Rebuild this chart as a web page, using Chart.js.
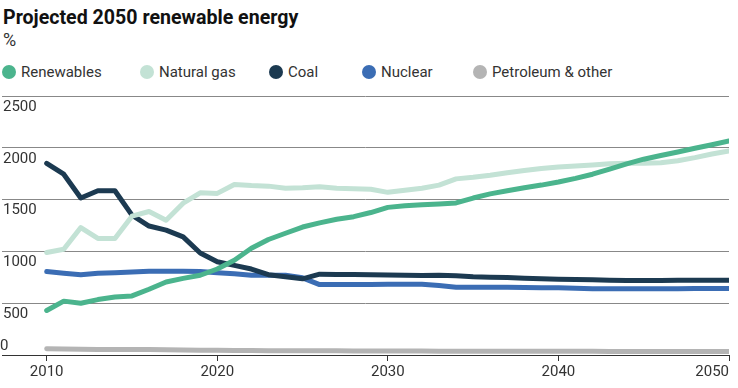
<!DOCTYPE html>
<html>
<head>
<meta charset="utf-8">
<script src="https://cdn.jsdelivr.net/npm/chart.js@4"></script>
<style>
  body { margin: 0; width: 738px; height: 388px; position: relative; overflow: hidden; background: #fff; font-family: Roboto, sans-serif; }
  #title { position: absolute; left: 3px; top: 6px; font-size: 19.6px; font-weight: 700; line-height: 24px; color: #111; }
  #unit { position: absolute; left: 3px; top: 30px; font-size: 18px; line-height: 20px; color: #333; }
  #legend { position: absolute; left: 0; top: 63px; width: 738px; height: 18px; }
  .item { position: absolute; top: 0; display: flex; align-items: center; height: 18px; font-size: 15px; color: #333; white-space: nowrap; }
  .dot { width: 14px; height: 14px; border-radius: 50%; margin-right: 5px; }
  #wrap { position: absolute; left: 0; top: 86px; width: 738px; height: 302px; }
</style>
</head>
<body>
<div id="title">Projected 2050 renewable energy</div>
<div id="unit">%</div>
<div id="legend"></div>
<div id="wrap"><canvas id="chart"></canvas></div>
<script>
const years = [2010, 2011, 2012, 2013, 2014, 2015, 2016, 2017, 2018, 2019, 2020,
  2021, 2022, 2023, 2024, 2025, 2026, 2027, 2028, 2029, 2030,
  2031, 2032, 2033, 2034, 2035, 2036, 2037, 2038, 2039, 2040,
  2041, 2042, 2043, 2044, 2045, 2046, 2047, 2048, 2049, 2050];

const renewables = [430, 520, 500, 535, 560, 570, 635, 705, 740, 770, 830,
  915, 1030, 1115, 1175, 1235, 1275, 1310, 1335, 1375, 1425,
  1440, 1450, 1458, 1468, 1515, 1555, 1585, 1615, 1640, 1670,
  1705, 1745, 1795, 1845, 1890, 1925, 1960, 1995, 2030, 2065];
const naturalGas = [990, 1020, 1230, 1125, 1125, 1340, 1385, 1300, 1465, 1565, 1560,
  1645, 1635, 1630, 1610, 1615, 1625, 1610, 1605, 1600, 1570,
  1590, 1610, 1640, 1700, 1715, 1735, 1760, 1780, 1800, 1815,
  1825, 1835, 1845, 1850, 1850, 1855, 1875, 1905, 1940, 1970];
const coal = [1850, 1745, 1515, 1585, 1585, 1350, 1245, 1205, 1140, 985, 900,
  865, 830, 775, 755, 735, 780, 778, 776, 775, 772,
  770, 768, 770, 765, 755, 750, 748, 740, 735, 730,
  728, 726, 722, 720, 720, 718, 722, 722, 722, 722];
const nuclear = [805, 790, 775, 790, 795, 800, 808, 808, 808, 805, 795,
  785, 770, 770, 770, 745, 680, 680, 680, 680, 683,
  683, 683, 670, 655, 655, 655, 655, 652, 650, 648,
  645, 640, 640, 640, 640, 640, 640, 642, 642, 642];
const petroleum = [60, 57, 55, 54, 54, 54, 52, 50, 48, 46, 45,
  44, 43, 42, 42, 41, 40, 40, 39, 39, 38,
  38, 38, 37, 37, 37, 36, 36, 36, 35, 35,
  35, 35, 34, 34, 34, 34, 33, 33, 33, 33];

const seriesNames = ["Renewables", "Natural gas", "Coal", "Nuclear", "Petroleum & other"];
const seriesColors = ["#4bb48d", "#c3e2d5", "#1c3a51", "#3b6db4", "#b4b4b4"];
const seriesValues = [renewables, naturalGas, coal, nuclear, petroleum];

const yTicks = [0, 500, 1000, 1500, 2000, 2500];
const xTicks = [2010, 2020, 2030, 2040];
const xLastTick = [2050];

const legendLeft = [2, 140, 269, 362, 473];

const font = { family: "Roboto", size: 15 };
const textColor = "#333";

const datasets = seriesNames.map((name, i) => ({
  label: name,
  data: seriesValues[i].map((v, j) => ({ x: years[j], y: v })),
  borderColor: seriesColors[i],
  backgroundColor: seriesColors[i],
  borderWidth: 5,
  borderCapStyle: "round",
  borderJoinStyle: "round",
  pointRadius: 0,
  tension: 0,
}));

// html legend
const legend = document.getElementById("legend");
seriesNames.forEach((name, i) => {
  const item = document.createElement("div");
  item.className = "item";
  item.style.left = legendLeft[i] + "px";
  item.innerHTML = '<span class="dot" style="background:' + seriesColors[i] + '"></span>';
  item.appendChild(document.createTextNode(name));
  legend.appendChild(item);
});

const xMin = 2007.38;

new Chart(document.getElementById("chart"), {
  type: "line",
  data: { datasets },
  options: {
    responsive: true,
    maintainAspectRatio: false,
    animation: false,
    layout: { padding: { top: 10, right: 9, bottom: 5, left: 0 } },
    plugins: { legend: { display: false }, tooltip: { enabled: false } },
    scales: {
      x: {
        type: "linear",
        min: xMin,
        max: 2050,
        afterBuildTicks: (s) => { s.ticks = xTicks.map((v) => ({ value: v })); },
        grid: { drawOnChartArea: false, drawTicks: true, tickLength: 6, color: "#333" },
        border: { display: true, color: "#333", width: 1 },
        ticks: { font, color: textColor, padding: 2, maxRotation: 0, autoSkip: false, callback: (v) => String(v) },
      },
      x2: {
        type: "linear",
        axis: "x",
        position: { y: 0 },
        min: xMin,
        max: 2050,
        afterBuildTicks: (s) => { s.ticks = xLastTick.map((v) => ({ value: v })); },
        grid: { drawOnChartArea: false, drawTicks: true, tickLength: 6, color: "#333" },
        border: { display: false },
        ticks: { font, color: textColor, padding: 2, align: "end", maxRotation: 0, autoSkip: false, callback: (v) => String(v) },
      },
      y: {
        min: 0,
        max: 2500,
        afterBuildTicks: (s) => { s.ticks = yTicks.map((v) => ({ value: v })); },
        grid: { color: "#888", drawTicks: false },
        border: { display: false },
        ticks: { mirror: true, padding: 1, labelOffset: 11, font, color: textColor, callback: (v) => (v === 0 ? "" : String(v)) },
      },
      y0: {
        axis: "y",
        position: "left",
        min: 0,
        max: 2500,
        afterBuildTicks: (s) => { s.ticks = [{ value: 0 }]; },
        grid: { display: false, drawTicks: false },
        border: { display: false },
        ticks: { mirror: true, padding: 0, labelOffset: -9, font, color: textColor, callback: (v) => String(v) },
      },
    },
  },
});
</script>
</body>
</html>
